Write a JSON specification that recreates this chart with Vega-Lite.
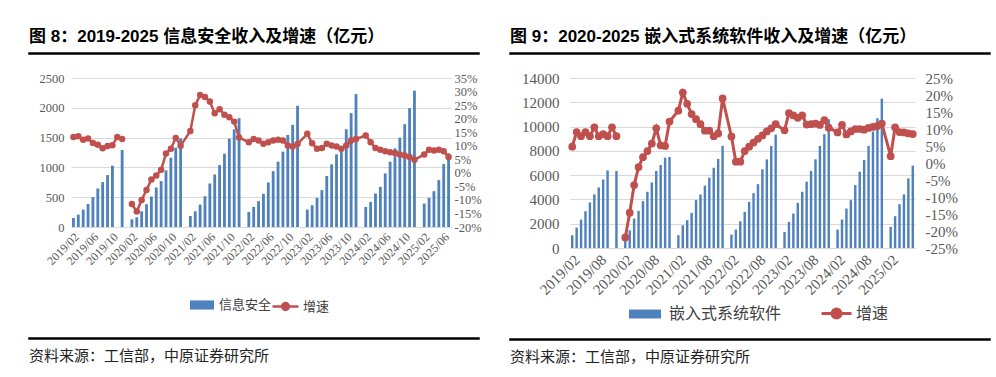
{
"$schema":"https://vega.github.io/schema/vega-lite/v6.json",
"background":"white",
"padding":{"left":28,"top":27,"right":2,"bottom":0},
"config":{"view":{"stroke":null},"axis":{"labelFont":"Liberation Serif","labelColor":"#595959"},"legend":{"labelFont":"Noto Sans CJK SC","labelColor":"#404040","padding":0}},
"spacing":27,
"resolve":{"scale":{"fill":"independent","stroke":"independent"},"legend":{"fill":"independent","stroke":"independent"}},
"hconcat":[
{"spacing":17,
 "resolve":{"scale":{"fill":"independent","stroke":"independent"},"legend":{"fill":"independent","stroke":"independent"}},
 "vconcat":[
 {"width":450,"height":1,"data":{"values":[]},"mark":"point","view":{"stroke":"#000","strokeWidth":1.5},
  "title":{"text":"图 8：2019-2025 信息安全收入及增速（亿元）","anchor":"start","orient":"top","offset":7,"fontSize":17,"fontWeight":"bold","font":"Liberation Sans, Noto Sans CJK SC","color":"#000"}},
 {"spacing":22,
  "resolve":{"scale":{"fill":"independent","stroke":"independent"},"legend":{"fill":"independent","stroke":"independent"}},
  "vconcat":[
  {"spacing":0,
   "resolve":{"scale":{"fill":"independent","stroke":"independent"},"legend":{"fill":"independent","stroke":"independent"}},
   "hconcat":[
   {"width":1,"height":1,"data":{"values":[]},"mark":"point"},
   {"width":380,"height":149,
   "data":{"values":[
{"m":"2019/02","v":152,"g":13.2,"s":"a"},{"m":"2019/03","v":208,"g":13.5,"s":"a"},{"m":"2019/04","v":292,"g":12.2,"s":"a"},{"m":"2019/05","v":388,"g":12.7,"s":"a"},{"m":"2019/06","v":500,"g":11.0,"s":"a"},{"m":"2019/07","v":646,"g":10.4,"s":"a"},{"m":"2019/08","v":753,"g":9.1,"s":"a"},{"m":"2019/09","v":871,"g":9.9,"s":"a"},{"m":"2019/10","v":1028,"g":10.2,"s":"a"},{"m":"2019/11","v":null,"g":13.2,"s":"a"},{"m":"2019/12","v":1292,"g":12.5,"s":"a"},
{"m":"2020/02","v":129,"g":-11.5,"s":"b"},{"m":"2020/03","v":163,"g":-14.3,"s":"b"},{"m":"2020/04","v":264,"g":-10.0,"s":"b"},{"m":"2020/05","v":382,"g":-6.3,"s":"b"},{"m":"2020/06","v":511,"g":-2.5,"s":"b"},{"m":"2020/07","v":663,"g":-1.0,"s":"b"},{"m":"2020/08","v":770,"g":1.1,"s":"b"},{"m":"2020/09","v":949,"g":7.1,"s":"b"},{"m":"2020/10","v":1163,"g":8.9,"s":"b"},{"m":"2020/11","v":1331,"g":12.9,"s":"b"},{"m":"2020/12","v":1489,"g":10.0,"s":"b"},
{"m":"2021/02","v":185,"g":15.4,"s":"b"},{"m":"2021/03","v":264,"g":24.9,"s":"b"},{"m":"2021/04","v":376,"g":28.7,"s":"b"},{"m":"2021/05","v":517,"g":28.0,"s":"b"},{"m":"2021/06","v":730,"g":26.3,"s":"b"},{"m":"2021/07","v":882,"g":22.0,"s":"b"},{"m":"2021/08","v":1039,"g":23.5,"s":"b"},{"m":"2021/09","v":1230,"g":21.4,"s":"b"},{"m":"2021/10","v":1483,"g":20.5,"s":"b"},{"m":"2021/11","v":1640,"g":18.9,"s":"b"},{"m":"2021/12","v":1826,"g":13.0,"s":"b"},
{"m":"2022/02","v":253,"g":11.3,"s":"b"},{"m":"2022/03","v":337,"g":12.5,"s":"b"},{"m":"2022/04","v":433,"g":11.9,"s":"b"},{"m":"2022/05","v":556,"g":10.7,"s":"b"},{"m":"2022/06","v":747,"g":11.3,"s":"b"},{"m":"2022/07","v":938,"g":11.9,"s":"b"},{"m":"2022/08","v":1096,"g":12.2,"s":"b"},{"m":"2022/09","v":1264,"g":11.9,"s":"b"},{"m":"2022/10","v":1545,"g":10.1,"s":"b"},{"m":"2022/11","v":1713,"g":9.7,"s":"b"},{"m":"2022/12","v":2034,"g":10.6,"s":"b"},
{"m":"2023/02","v":292,"g":14.4,"s":"b"},{"m":"2023/03","v":365,"g":10.9,"s":"b"},{"m":"2023/04","v":489,"g":8.9,"s":"b"},{"m":"2023/05","v":618,"g":9.2,"s":"b"},{"m":"2023/06","v":854,"g":10.7,"s":"b"},{"m":"2023/07","v":1051,"g":10.1,"s":"b"},{"m":"2023/08","v":1219,"g":9.7,"s":"b"},{"m":"2023/09","v":1348,"g":8.9,"s":"b"},{"m":"2023/10","v":1640,"g":10.1,"s":"b"},{"m":"2023/11","v":1910,"g":11.9,"s":"b"},{"m":"2023/12","v":2230,"g":12.5,"s":"b"},
{"m":"2024/02","v":337,"g":13.8,"s":"b"},{"m":"2024/03","v":421,"g":11.3,"s":"b"},{"m":"2024/04","v":562,"g":9.2,"s":"b"},{"m":"2024/05","v":674,"g":8.5,"s":"b"},{"m":"2024/06","v":899,"g":8.0,"s":"b"},{"m":"2024/07","v":1096,"g":7.6,"s":"b"},{"m":"2024/08","v":1320,"g":7.3,"s":"b"},{"m":"2024/09","v":1500,"g":6.8,"s":"b"},{"m":"2024/10","v":1725,"g":6.4,"s":"b"},{"m":"2024/11","v":1994,"g":5.8,"s":"b"},{"m":"2024/12","v":2287,"g":4.8,"s":"b"},
{"m":"2025/02","v":393,"g":6.8,"s":"b"},{"m":"2025/03","v":489,"g":8.5,"s":"b"},{"m":"2025/04","v":601,"g":8.2,"s":"b"},{"m":"2025/05","v":787,"g":8.5,"s":"b"},{"m":"2025/06","v":1056,"g":8.0,"s":"b"},{"m":"2025/07","v":1236,"g":5.8,"s":"b"}
   ]},
   "layer":[
    {"mark":{"type":"bar"},
     "encoding":{
      "x":{"field":"m","type":"ordinal","scale":{"domain":["2019/02","2019/03","2019/04","2019/05","2019/06","2019/07","2019/08","2019/09","2019/10","2019/11","2019/12","2020/01","2020/02","2020/03","2020/04","2020/05","2020/06","2020/07","2020/08","2020/09","2020/10","2020/11","2020/12","2021/01","2021/02","2021/03","2021/04","2021/05","2021/06","2021/07","2021/08","2021/09","2021/10","2021/11","2021/12","2022/01","2022/02","2022/03","2022/04","2022/05","2022/06","2022/07","2022/08","2022/09","2022/10","2022/11","2022/12","2023/01","2023/02","2023/03","2023/04","2023/05","2023/06","2023/07","2023/08","2023/09","2023/10","2023/11","2023/12","2024/01","2024/02","2024/03","2024/04","2024/05","2024/06","2024/07","2024/08","2024/09","2024/10","2024/11","2024/12","2025/01","2025/02","2025/03","2025/04","2025/05","2025/06","2025/07"],"paddingInner":0.42,"paddingOuter":0.21},
       "axis":{"title":null,"values":["2019/02","2019/06","2019/10","2020/02","2020/06","2020/10","2021/02","2021/06","2021/10","2022/02","2022/06","2022/10","2023/02","2023/06","2023/10","2024/02","2024/06","2024/10","2025/02","2025/06"],"labelAngle":-45,"labelFontSize":12,"ticks":false,"domainColor":"#D9D9D9","labelPadding":4,"grid":false}},
      "y":{"field":"v","type":"quantitative","scale":{"domain":[0,2500]},"axis":{"title":null,"values":[0,500,1000,1500,2000,2500],"format":"d","grid":true,"gridColor":"#D9D9D9","domain":false,"ticks":false,"labelFontSize":12.5,"labelPadding":7,"minExtent":41,"maxExtent":41}},
      "fill":{"datum":"信息安全","scale":{"range":["#4F81BD"]},"legend":{"orient":"none","legendX":118,"legendY":214,"title":null,"symbolType":"M-1,-0.38H1V0.38H-1Z","symbolSize":576,"labelFontSize":13,"labelOffset":4}}
     }},
    {"mark":{"type":"line","strokeWidth":2.5,"point":{"filled":true,"size":42,"fill":"#C0504D","strokeWidth":0}},
     "encoding":{
      "x":{"field":"m","type":"ordinal"},
      "y":{"field":"g","type":"quantitative","scale":{"domain":[-20,35]},"axis":{"orient":"right","title":null,"values":[-20,-15,-10,-5,0,5,10,15,20,25,30,35],"labelExpr":"datum.value + '%'","grid":false,"domain":false,"ticks":false,"labelFontSize":12.5,"labelPadding":3}},
      "detail":{"field":"s"},
      "stroke":{"datum":"增速","scale":{"range":["#C0504D"]},"legend":{"orient":"none","legendX":200,"legendY":214,"title":null,"symbolType":"M-1,0H1M-0.26,0A0.26,0.26,0,1,1,0.26,0A0.26,0.26,0,1,1,-0.26,0","symbolSize":676,"symbolStrokeWidth":2.5,"symbolStrokeColor":"#C0504D","symbolFillColor":"#C0504D","labelFontSize":13,"labelOffset":3,"encode":{"symbols":{"update":{"fill":{"value":"#C0504D"},"stroke":{"value":"#C0504D"}}}}}}
     }}
   ],
   "resolve":{"scale":{"y":"independent"}}
   }]
  },
  {"width":450,"height":1,"data":{"values":[]},"mark":"point","view":{"stroke":"#000","strokeWidth":1.5},
   "title":{"text":"资料来源：工信部，中原证券研究所","anchor":"start","orient":"bottom","offset":10,"fontSize":15,"fontWeight":"normal","font":"Noto Sans CJK SC","color":"#222"}}
 ]}
]},
{"spacing":16,
 "resolve":{"scale":{"fill":"independent","stroke":"independent"},"legend":{"fill":"independent","stroke":"independent"}},
 "vconcat":[
 {"width":480,"height":1,"data":{"values":[]},"mark":"point","view":{"stroke":"#000","strokeWidth":1.5},
  "title":{"text":"图 9：2020-2025 嵌入式系统软件收入及增速（亿元）","anchor":"start","orient":"top","offset":7,"fontSize":17,"fontWeight":"bold","font":"Liberation Sans, Noto Sans CJK SC","color":"#000"}},
 {"spacing":14,
  "resolve":{"scale":{"fill":"independent","stroke":"independent"},"legend":{"fill":"independent","stroke":"independent"}},
  "vconcat":[
  {"spacing":0,
   "resolve":{"scale":{"fill":"independent","stroke":"independent"},"legend":{"fill":"independent","stroke":"independent"}},
   "hconcat":[
   {"width":1,"height":1,"data":{"values":[]},"mark":"point"},
   {"width":345,"height":170,
   "data":{"values":[
{"m":"2019/02","v":1050,"g":4.8,"s":"a"},{"m":"2019/03","v":1680,"g":9.1,"s":"a"},{"m":"2019/04","v":2340,"g":7.9,"s":"a"},{"m":"2019/05","v":3030,"g":9.1,"s":"a"},{"m":"2019/06","v":3750,"g":7.9,"s":"a"},{"m":"2019/07","v":4410,"g":10.5,"s":"a"},{"m":"2019/08","v":4990,"g":7.9,"s":"a"},{"m":"2019/09","v":5650,"g":8.5,"s":"a"},{"m":"2019/10","v":6390,"g":7.9,"s":"a"},{"m":"2019/11","v":null,"g":10.5,"s":"a"},{"m":"2019/12","v":6340,"g":7.9,"s":"a"},
{"m":"2020/02","v":800,"g":-21.9,"s":"b"},{"m":"2020/03","v":1460,"g":-14.6,"s":"b"},{"m":"2020/04","v":2420,"g":-6.5,"s":"b"},{"m":"2020/05","v":3060,"g":-1.2,"s":"b"},{"m":"2020/06","v":3860,"g":1.7,"s":"b"},{"m":"2020/07","v":4630,"g":3.5,"s":"b"},{"m":"2020/08","v":5400,"g":5.7,"s":"b"},{"m":"2020/09","v":6340,"g":10.2,"s":"b"},{"m":"2020/10","v":6840,"g":5.2,"s":"b"},{"m":"2020/11","v":7440,"g":5.0,"s":"b"},{"m":"2020/12","v":7500,"g":12.2,"s":"b"},
{"m":"2021/02","v":1050,"g":15.4,"s":"b"},{"m":"2021/03","v":1870,"g":20.7,"s":"b"},{"m":"2021/04","v":2290,"g":17.4,"s":"b"},{"m":"2021/05","v":2890,"g":14.4,"s":"b"},{"m":"2021/06","v":3940,"g":12.9,"s":"b"},{"m":"2021/07","v":4410,"g":11.4,"s":"b"},{"m":"2021/08","v":5130,"g":9.5,"s":"b"},{"m":"2021/09","v":5790,"g":9.5,"s":"b"},{"m":"2021/10","v":6610,"g":7.9,"s":"b"},{"m":"2021/11","v":7330,"g":8.7,"s":"b"},{"m":"2021/12","v":8410,"g":19.0,"s":"b"},
{"m":"2022/02","v":1100,"g":7.8,"s":"b"},{"m":"2022/03","v":1520,"g":0.4,"s":"b"},{"m":"2022/04","v":2200,"g":0.4,"s":"b"},{"m":"2022/05","v":2980,"g":3.5,"s":"b"},{"m":"2022/06","v":3800,"g":4.8,"s":"b"},{"m":"2022/07","v":4520,"g":6.0,"s":"b"},{"m":"2022/08","v":5260,"g":7.1,"s":"b"},{"m":"2022/09","v":6480,"g":8.1,"s":"b"},{"m":"2022/10","v":7300,"g":9.3,"s":"b"},{"m":"2022/11","v":8400,"g":10.2,"s":"b"},{"m":"2022/12","v":9340,"g":11.4,"s":"b"},
{"m":"2023/02","v":1320,"g":9.6,"s":"b"},{"m":"2023/03","v":2150,"g":14.7,"s":"b"},{"m":"2023/04","v":2840,"g":14.0,"s":"b"},{"m":"2023/05","v":3720,"g":13.3,"s":"b"},{"m":"2023/06","v":4630,"g":14.0,"s":"b"},{"m":"2023/07","v":5460,"g":11.3,"s":"b"},{"m":"2023/08","v":6340,"g":11.4,"s":"b"},{"m":"2023/09","v":7300,"g":11.6,"s":"b"},{"m":"2023/10","v":8400,"g":11.2,"s":"b"},{"m":"2023/11","v":9370,"g":12.6,"s":"b"},{"m":"2023/12","v":10600,"g":10.4,"s":"b"},
{"m":"2024/02","v":1520,"g":9.0,"s":"b"},{"m":"2024/03","v":2340,"g":11.2,"s":"b"},{"m":"2024/04","v":3250,"g":8.4,"s":"b"},{"m":"2024/05","v":3940,"g":9.3,"s":"b"},{"m":"2024/06","v":5180,"g":10.0,"s":"b"},{"m":"2024/07","v":6280,"g":10.0,"s":"b"},{"m":"2024/08","v":7250,"g":9.8,"s":"b"},{"m":"2024/09","v":8410,"g":10.3,"s":"b"},{"m":"2024/10","v":9590,"g":10.6,"s":"b"},{"m":"2024/11","v":10690,"g":10.9,"s":"b"},{"m":"2024/12","v":12300,"g":11.6,"s":"b"},
{"m":"2025/02","v":1740,"g":2.0,"s":"b"},{"m":"2025/03","v":2620,"g":10.5,"s":"b"},{"m":"2025/04","v":3610,"g":9.1,"s":"b"},{"m":"2025/05","v":4410,"g":9.0,"s":"b"},{"m":"2025/06","v":5730,"g":8.7,"s":"b"},{"m":"2025/07","v":6780,"g":8.5,"s":"b"}
   ]},
   "layer":[
    {"mark":{"type":"bar"},
     "encoding":{
      "x":{"field":"m","type":"ordinal","scale":{"domain":["2019/02","2019/03","2019/04","2019/05","2019/06","2019/07","2019/08","2019/09","2019/10","2019/11","2019/12","2020/01","2020/02","2020/03","2020/04","2020/05","2020/06","2020/07","2020/08","2020/09","2020/10","2020/11","2020/12","2021/01","2021/02","2021/03","2021/04","2021/05","2021/06","2021/07","2021/08","2021/09","2021/10","2021/11","2021/12","2022/01","2022/02","2022/03","2022/04","2022/05","2022/06","2022/07","2022/08","2022/09","2022/10","2022/11","2022/12","2023/01","2023/02","2023/03","2023/04","2023/05","2023/06","2023/07","2023/08","2023/09","2023/10","2023/11","2023/12","2024/01","2024/02","2024/03","2024/04","2024/05","2024/06","2024/07","2024/08","2024/09","2024/10","2024/11","2024/12","2025/01","2025/02","2025/03","2025/04","2025/05","2025/06","2025/07"],"paddingInner":0.45,"paddingOuter":0.225},
       "axis":{"title":null,"values":["2019/02","2019/08","2020/02","2020/08","2021/02","2021/08","2022/02","2022/08","2023/02","2023/08","2024/02","2024/08","2025/02"],"labelAngle":-45,"labelFontSize":15,"ticks":false,"domainColor":"#D9D9D9","labelPadding":4,"grid":false}},
      "y":{"field":"v","type":"quantitative","scale":{"domain":[0,14000]},"axis":{"title":null,"values":[0,2000,4000,6000,8000,10000,12000,14000],"format":"d","grid":true,"gridColor":"#D9D9D9","domain":false,"ticks":false,"labelFontSize":15,"labelPadding":11,"minExtent":59,"maxExtent":59}},
      "fill":{"datum":"嵌入式系统软件","scale":{"range":["#4F81BD"]},"legend":{"orient":"none","legendX":58,"legendY":219,"title":null,"symbolType":"M-1,-0.28H1V0.28H-1Z","symbolSize":1024,"labelFontSize":16,"labelOffset":7}}
     }},
    {"mark":{"type":"line","strokeWidth":3,"point":{"filled":true,"size":60,"fill":"#C0504D","strokeWidth":0}},
     "encoding":{
      "x":{"field":"m","type":"ordinal"},
      "y":{"field":"g","type":"quantitative","scale":{"domain":[-25,25]},"axis":{"orient":"right","title":null,"values":[-25,-20,-15,-10,-5,0,5,10,15,20,25],"labelExpr":"datum.value + '%'","grid":false,"domain":false,"ticks":false,"labelFontSize":15,"labelPadding":10}},
      "detail":{"field":"s"},
      "stroke":{"datum":"增速","scale":{"range":["#C0504D"]},"legend":{"orient":"none","legendX":250,"legendY":219,"title":null,"symbolType":"M-1,0H1M-0.3,0A0.3,0.3,0,1,1,0.3,0A0.3,0.3,0,1,1,-0.3,0","symbolSize":900,"symbolStrokeWidth":3,"symbolStrokeColor":"#C0504D","symbolFillColor":"#C0504D","labelFontSize":16,"labelOffset":3,"encode":{"symbols":{"update":{"fill":{"value":"#C0504D"},"stroke":{"value":"#C0504D"}}}}}}
     }}
   ],
   "resolve":{"scale":{"y":"independent"}}
   }]
  },
  {"width":480,"height":1,"data":{"values":[]},"mark":"point","view":{"stroke":"#000","strokeWidth":1.5},
   "title":{"text":"资料来源：工信部，中原证券研究所","anchor":"start","orient":"bottom","offset":10,"fontSize":15,"fontWeight":"normal","font":"Noto Sans CJK SC","color":"#222"}}
 ]}
]}
]
}
